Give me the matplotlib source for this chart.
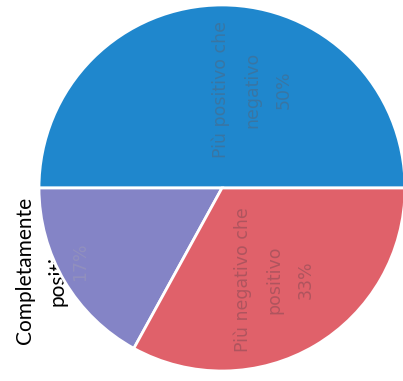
import matplotlib
matplotlib.use("Agg")
import matplotlib.pyplot as plt

# Data (order: counter-clockwise starting at 3 o'clock)
categories = ["Più positivo che negativo", "Completamente positivo", "Più negativo che positivo"]
values = [50, 17, 33]
inner_labels = ["Più positivo che\nnegativo\n50%", "17%", "Più negativo che\npositivo\n33%"]
colors = ["#1f87cd", "#8484c6", "#e0616a"]
text_colors = ["#4a6a88", "#9a98b8", "#8e4c56"]

W, H = 403, 381
fig = plt.figure(figsize=(W / 100, H / 100), dpi=100)
ax = fig.add_axes([0, 0, 1, 1])

cx, cy, r = 222, H - 188, 183

wedges, _ = ax.pie(values, colors=colors, startangle=0, counterclock=True,
                   center=(cx, cy), radius=r, explode=[0.02, 0, 0],
                   wedgeprops=dict(edgecolor="white", linewidth=2.0),
                   frame=True)
for w in wedges:
    w.set_zorder(3)
ax.set_xlim(0, W)
ax.set_ylim(0, H)
ax.set_aspect("equal")
ax.axis("off")

# outside label (partly hidden behind the pie)
ax.text(41, H - 270, "Completamente\npositivo", rotation=90, ha="center", va="center",
        fontsize=15, family="Lato", color="black", linespacing=1.8, zorder=1)

# faint inner labels
pos = [(252, H - 90), (80, H - 262), (274, H - 280)]
for (x, y), lab, tc in zip(pos, inner_labels, text_colors):
    ax.text(x, y, lab, rotation=90, ha="center", va="center", fontsize=12.5,
            family="DejaVu Sans", color=tc, alpha=0.6, linespacing=1.95, zorder=4)

fig.savefig("out.png", dpi=100)
